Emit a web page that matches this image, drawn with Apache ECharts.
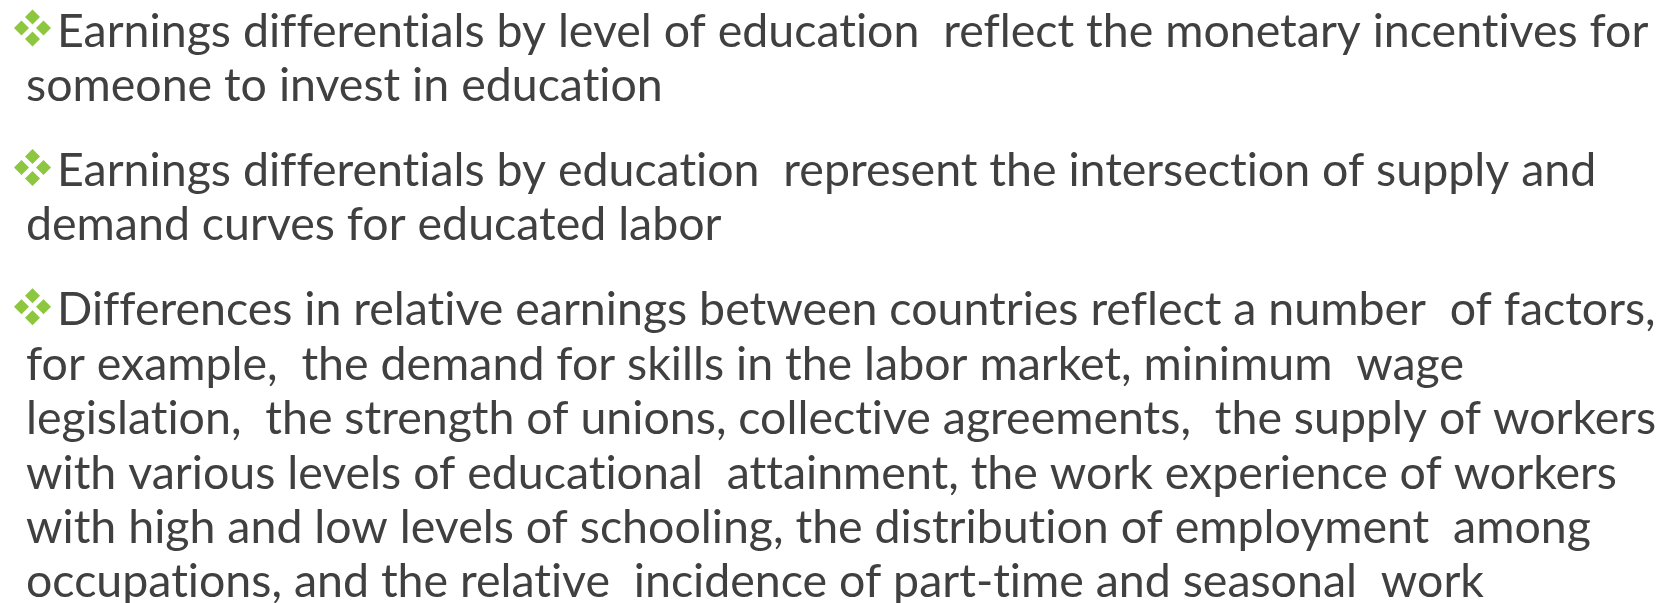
<!DOCTYPE html>
<html>
<head>
<meta charset="utf-8">
<script src="https://cdn.jsdelivr.net/npm/echarts@6/dist/echarts.min.js"></script>
<style>
  html, body { margin: 0; padding: 0; background: #fff; }
  #main { width: 1672px; height: 603px; }
</style>
</head>
<body>
<div id="main"></div>
<script>
// bullet paragraphs, one string per printed line
var bullet1 = [
    'Earnings differentials by level of education  reflect the monetary incentives for',
    'someone to invest in education'
];
var bullet2 = [
    'Earnings differentials by education  represent the intersection of supply and',
    'demand curves for educated labor'
];
var bullet3 = [
    'Differences in relative earnings between countries reflect a number  of factors,',
    'for example,  the demand for skills in the labor market, minimum  wage',
    'legislation,  the strength of unions, collective agreements,  the supply of workers',
    'with various levels of educational  attainment, the work experience of workers',
    'with high and low levels of schooling, the distribution of employment  among',
    'occupations, and the relative  incidence of part-time and seasonal  work'
];
var paragraphs = [bullet1, bullet2, bullet3];

var textColor = '#404040';
var bulletColor = '#8DC63F';
var fontSize = 46.5;
var lineGap = 54.4;
var paraGap = 85;

// stop Lato from joining ti / ff / fi into ligatures
function noLig(s) {
    return s.replace(/([ft])(?=[fitl])/g, '$1\u200C');
}

var myChart = echarts.init(document.getElementById('main'));

var elements = [];
var baseline = 46;
paragraphs.forEach(function (lines, p) {
    // four small diamonds as the bullet
    var cx = 32.5, cy = baseline - 18;
    [[0, -11], [-11, 0], [11, 0], [0, 11]].forEach(function (d) {
        var x = cx + d[0], y = cy + d[1];
        elements.push({
            type: 'polygon',
            shape: { points: [[x, y - 7.5], [x + 7.5, y], [x, y + 7.5], [x - 7.5, y]] },
            style: { fill: bulletColor }
        });
    });
    lines.forEach(function (line, i) {
        elements.push({
            type: 'text',
            x: i === 0 ? 57 : 26,
            y: baseline + 9,
            style: {
                text: noLig(line),
                fill: textColor,
                font: fontSize + 'px Lato',
                verticalAlign: 'bottom'
            }
        });
        baseline += lineGap;
    });
    baseline += paraGap - lineGap;
});

var option = {
    animation: false,
    graphic: elements
};
myChart.setOption(option);
</script>
</body>
</html>
